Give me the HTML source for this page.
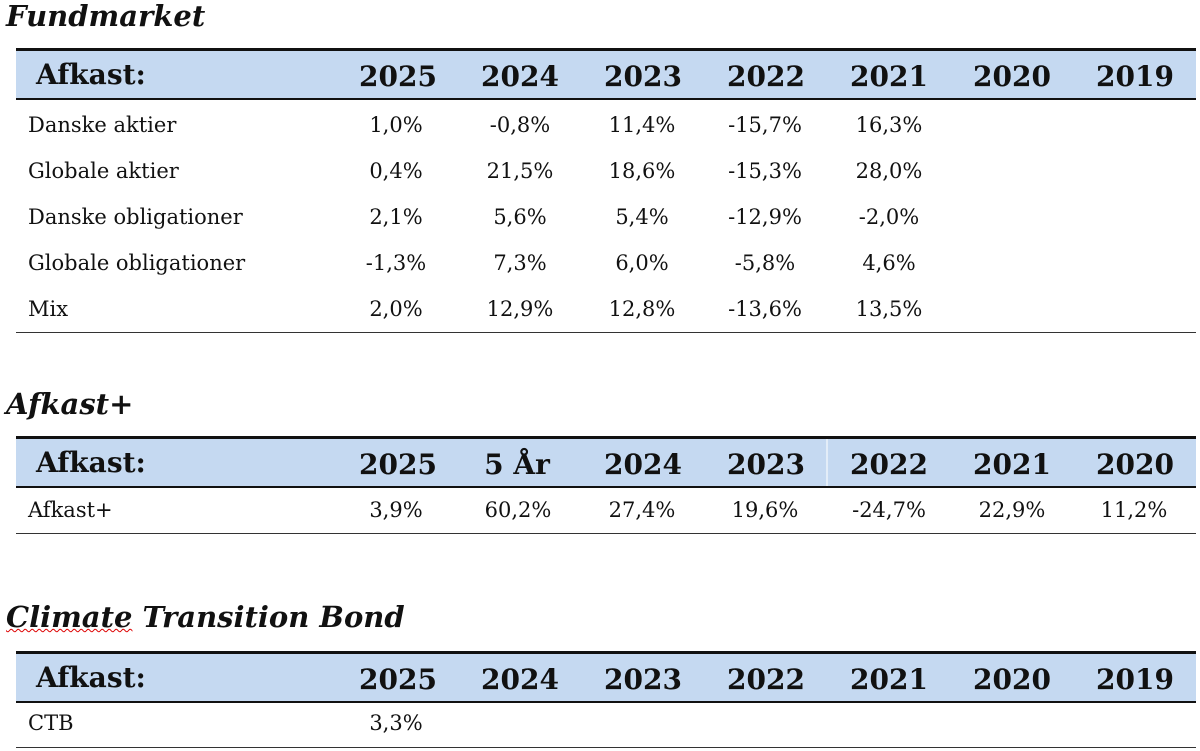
<!DOCTYPE html>
<html><head><meta charset="utf-8"><style>
body{margin:0;width:1200px;height:751px;background:#fff;position:relative;overflow:hidden;font-family:"DejaVu Serif","Liberation Serif",serif;color:#111}
.t{position:absolute;font-weight:bold;font-style:italic;font-size:29px;line-height:32px;left:6px}
.band{position:absolute;left:16px;width:1180px;background:#c5d9f1;border-top:3px solid #111;border-bottom:2px solid #111}
.line{position:absolute;left:16px;width:1180px;height:1px;background:#333}
.h,.c,.l{position:absolute;line-height:30px;height:30px;white-space:nowrap}
.h{font-weight:bold;font-size:28px;transform:translateX(-50%)}
.c{font-size:21px;transform:translateX(-50%)}
.l{font-size:21px;left:28px}
.hl{font-weight:bold;font-size:28px;left:36px;position:absolute;line-height:30px}
</style></head><body>
<div class="t" style="top:0">Fundmarket</div>
<div class="band" style="top:48px;height:47px"></div>
<div class="hl" style="top:60px">Afkast:</div>
<div class="h" style="left:398px;top:62px">2025</div><div class="h" style="left:520px;top:62px">2024</div><div class="h" style="left:643px;top:62px">2023</div><div class="h" style="left:766px;top:62px">2022</div><div class="h" style="left:889px;top:62px">2021</div><div class="h" style="left:1012px;top:62px">2020</div><div class="h" style="left:1135px;top:62px">2019</div>

<div class="l" style="top:110px">Danske aktier</div><div class="c" style="left:396px;top:110px">1,0%</div><div class="c" style="left:520px;top:110px">-0,8%</div><div class="c" style="left:642px;top:110px">11,4%</div><div class="c" style="left:765px;top:110px">-15,7%</div><div class="c" style="left:889px;top:110px">16,3%</div>
<div class="l" style="top:156px">Globale aktier</div><div class="c" style="left:396px;top:156px">0,4%</div><div class="c" style="left:520px;top:156px">21,5%</div><div class="c" style="left:642px;top:156px">18,6%</div><div class="c" style="left:765px;top:156px">-15,3%</div><div class="c" style="left:889px;top:156px">28,0%</div>
<div class="l" style="top:202px">Danske obligationer</div><div class="c" style="left:396px;top:202px">2,1%</div><div class="c" style="left:520px;top:202px">5,6%</div><div class="c" style="left:642px;top:202px">5,4%</div><div class="c" style="left:765px;top:202px">-12,9%</div><div class="c" style="left:889px;top:202px">-2,0%</div>
<div class="l" style="top:248px">Globale obligationer</div><div class="c" style="left:396px;top:248px">-1,3%</div><div class="c" style="left:520px;top:248px">7,3%</div><div class="c" style="left:642px;top:248px">6,0%</div><div class="c" style="left:765px;top:248px">-5,8%</div><div class="c" style="left:889px;top:248px">4,6%</div>
<div class="l" style="top:294px">Mix</div><div class="c" style="left:396px;top:294px">2,0%</div><div class="c" style="left:520px;top:294px">12,9%</div><div class="c" style="left:642px;top:294px">12,8%</div><div class="c" style="left:765px;top:294px">-13,6%</div><div class="c" style="left:889px;top:294px">13,5%</div>
<div class="line" style="top:332px"></div>

<div class="t" style="top:388px">Afkast+</div>
<div class="band" style="top:436px;height:47px"></div>
<div style="position:absolute;left:826px;top:439px;width:2px;height:47px;background:#e3edf8"></div>
<div class="hl" style="top:448px">Afkast:</div>
<div class="h" style="left:398px;top:450px">2025</div><div class="h" style="left:517px;top:450px">5 År</div><div class="h" style="left:643px;top:450px">2024</div><div class="h" style="left:766px;top:450px">2023</div><div class="h" style="left:889px;top:450px">2022</div><div class="h" style="left:1012px;top:450px">2021</div><div class="h" style="left:1135px;top:450px">2020</div>
<div class="l" style="top:495px">Afkast+</div><div class="c" style="left:396px;top:495px">3,9%</div><div class="c" style="left:518px;top:495px">60,2%</div><div class="c" style="left:642px;top:495px">27,4%</div><div class="c" style="left:765px;top:495px">19,6%</div><div class="c" style="left:889px;top:495px">-24,7%</div><div class="c" style="left:1012px;top:495px">22,9%</div><div class="c" style="left:1134px;top:495px">11,2%</div>
<div class="line" style="top:533px"></div>

<div class="t" style="top:601px"><span style="text-decoration:underline wavy #d00;text-decoration-thickness:1px">Climate</span> Transition Bond</div>
<div class="band" style="top:651px;height:47px"></div>
<div class="hl" style="top:663px">Afkast:</div>
<div class="h" style="left:398px;top:665px">2025</div><div class="h" style="left:520px;top:665px">2024</div><div class="h" style="left:643px;top:665px">2023</div><div class="h" style="left:766px;top:665px">2022</div><div class="h" style="left:889px;top:665px">2021</div><div class="h" style="left:1012px;top:665px">2020</div><div class="h" style="left:1135px;top:665px">2019</div>
<div class="l" style="top:708px">CTB</div><div class="c" style="left:396px;top:708px">3,3%</div>
<div class="line" style="top:747px"></div>
</body></html>
